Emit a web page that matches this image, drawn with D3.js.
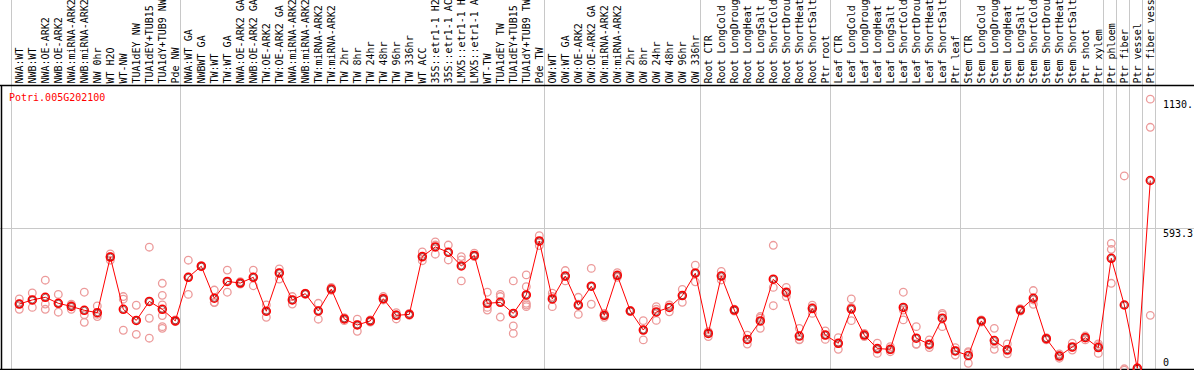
<!DOCTYPE html>
<html><head><meta charset="utf-8">
<script src="https://cdn.jsdelivr.net/npm/d3@7"></script>
<style>body{margin:0;background:#fff}svg{display:block}text{font-family:"DejaVu Sans Mono",monospace;font-size:10px}</style>
</head><body><div id="chart"></div>
<script>
const title = "Potri.005G202100";
const categories = [
"NWA:WT","NWB:WT","NWA:OE-ARK2","NWB:OE-ARK2","NWA:miRNA-ARK2","NWB:miRNA-ARK2","NW 0hr","WT H2O","WT-NW","TUA1dEY NW","TUA1dEY+TUB15 NW","TUA1dY+TUB9 NW","Pde NW",
"NWA:WT GA","NWBWT GA","TW:WT","TW:WT GA","NWA:OE-ARK2 GA","NWB:OE-ARK2 GA","TW:OE-ARK2","TW:OE-ARK2 GA","NWA:miRNA-ARK2 GA","NWB:miRNA-ARK2 GA","TW:miRNA-ARK2","TW:miRNA-ARK2 GA","TW 2hr","TW 8hr","TW 24hr","TW 48hr","TW 96hr","TW 336hr","WT ACC","35S::etr1-1 H2O","35S::etr1-1 ACC","LMX5::etr1-1 H2O","LMX5::etr1-1 ACC","WT-TW","TUA1dEY TW","TUA1dEY+TUB15 TW","TUA1dY+TUB9 TW","Pde TW",
"OW:WT","OW:WT GA","OW:OE-ARK2","OW:OE-ARK2 GA","OW:miRNA-ARK2","OW:miRNA-ARK2 GA","OW 2hr","OW 8hr","OW 24hr","OW 48hr","OW 96hr","OW 336hr",
"Root CTR","Root LongCold","Root LongDrought","Root LongHeat","Root LongSalt","Root ShortCold","Root ShortDrought","Root ShortHeat","Root ShortSalt","Ptr root",
"Leaf CTR","Leaf LongCold","Leaf LongDrought","Leaf LongHeat","Leaf LongSalt","Leaf ShortCold","Leaf ShortDrought","Leaf ShortHeat","Leaf ShortSalt","Ptr leaf",
"Stem CTR","Stem LongCold","Stem LongDrought","Stem LongHeat","Stem LongSalt","Stem ShortCold","Stem ShortDrought","Stem ShortHeat","Stem ShortSalt","Ptr shoot","Ptr xylem",
"Ptr phloem","Ptr fiber","Ptr vessel","Ptr fiber vessel"];
// index where each sample group starts (vertical separators)
const groupBreaks = [0,13,41,53,63,73,84,85,86,87,88];
const means = [
279,296,307,282,269,253,243,474,257,211,290,257,209,
390,436,303,373,366,390,249,408,296,322,250,341,217,192,209,301,232,236,476,516,494,437,481,282,286,240,317,541,
300,395,274,353,232,398,250,171,246,265,314,407,
157,395,254,132,209,382,328,146,260,150,
116,258,150,94,91,265,137,112,220,84,
65,209,127,89,254,303,135,63,101,139,98,
469,275,12,792];
const replicates = [
[300,257,279],[325,265,296],[378,279,257],[319,245,282],[278,257,274],[328,234,203],[271,236,227],[487,476,461],[310,299,170],[274,211,153],[515,220,137],[365,315,275,231,185,178],[213,206,209],
[461,319,390],[438,434,436],[337,285,286],[420,328,373],[372,362,366],[420,355,390],[275,224,249],[425,383,408],[310,279,296],[324,319,322],[282,216,250],[348,337,337],[222,210,217],[216,166,193],[213,204,209],[310,296,301],[243,217,235],[240,232,236],[495,473,459],[537,524,486],[524,494,462],[476,462,375],[490,476,481],[328,265,254],[319,310,225],[375,188,157],[400,351,317,282,275,268],[563,538,522],
[324,268,310],[418,375,394],[307,236,278],[427,278,353],[240,224,232],[409,390,396],[252,248,250],[210,130,171],[268,257,211],[275,247,274],[340,286,314],[440,409,371],
[164,144,157],[414,379,396],[258,250,254],[150,113,132],[227,178,220],[523,348,272],[348,310,324],[178,130,132],[274,240,265],[167,132,150],
[139,91,116],[300,210,265],[157,144,150],[116,74,91],[102,81,90],[328,213,254],[185,113,112],[130,98,108],[240,185,234],[98,67,85],
[81,33,77],[213,204,209],[178,91,113],[113,72,85],[260,250,254],[335,278,296],[139,130,135],[72,54,65],[116,88,98],[146,130,141],[113,74,106],
[531,506,365],[811,10,4],[15,10,11],[1130,1013,232]];
const yTickValues = [0, 593.3, 1130];
const yTickLabels = ["0", "593.3", "1130."];

const W = 1194, H = 370;
const svg = d3.select("#chart").append("svg").attr("width", W).attr("height", H);
const plotTop = 85.5;
const yMax = 1186.6;
const y = d3.scaleLinear().domain([0, yMax]).range([371.2, plotTop]);
const x = d3.scaleBand().domain(d3.range(categories.length)).range([11, 1155]).padding(0);
const px = i => x(i) + 8.3;

// vertical separators
svg.append("g").selectAll("line").data(groupBreaks).join("line")
  .attr("x1", d => Math.round(d < categories.length ? x(d) : x(categories.length-1) + x.bandwidth()) + 0.5)
  .attr("x2", d => Math.round(d < categories.length ? x(d) : x(categories.length-1) + x.bandwidth()) + 0.5)
  .attr("y1", 0).attr("y2", H).attr("stroke", "#c8c8c8").attr("stroke-width", 1);

// horizontal mid gridline
svg.append("line").attr("x1", 0).attr("x2", W)
  .attr("y1", Math.round(y(yTickValues[1])) + 0.5).attr("y2", Math.round(y(yTickValues[1])) + 0.5)
  .attr("stroke", "#c8c8c8");

// frame lines
svg.append("line").attr("x1", 0).attr("x2", W).attr("y1", plotTop).attr("y2", plotTop).attr("stroke", "#000").attr("stroke-width", 1.5);
svg.append("line").attr("x1", 0).attr("x2", W).attr("y1", 369.5).attr("y2", 369.5).attr("stroke", "#000").attr("stroke-width", 1.5);
svg.append("line").attr("x1", 1.5).attr("x2", 1.5).attr("y1", plotTop).attr("y2", H).attr("stroke", "#000").attr("stroke-width", 1.5);

// category labels
svg.append("g").selectAll("text").data(categories).join("text")
  .attr("transform", (d, i) => `translate(${px(i) + 3.6},83.5) rotate(-90)`)
  .attr("fill", "#000").text(d => d);

// title
svg.append("text").attr("x", 9).attr("y", 101).attr("fill", "#ff0000").text(title);

// y tick labels
svg.append("g").selectAll("text").data(yTickValues).join("text")
  .attr("x", 1163)
  .attr("y", (d, i) => i === 0 ? 366 : y(d) + 8.5)
  .attr("fill", "#000").text((d, i) => yTickLabels[i]);

// replicate points
const repData = [];
replicates.forEach((arr, i) => arr.forEach(v => repData.push({i, v})));
svg.append("g").selectAll("circle").data(repData).join("circle")
  .attr("cx", d => px(d.i)).attr("cy", d => y(d.v)).attr("r", 3.8)
  .attr("fill", "none").attr("stroke", "#ec9a9a").attr("stroke-width", 1.3);

// mean line
svg.append("path").datum(means)
  .attr("d", d3.line().x((d, i) => px(i)).y(d => y(d)))
  .attr("fill", "none").attr("stroke", "#ff0000").attr("stroke-width", 1);

// mean points
svg.append("g").selectAll("circle").data(means).join("circle")
  .attr("cx", (d, i) => px(i)).attr("cy", d => y(d)).attr("r", 4)
  .attr("fill", "none").attr("stroke", "#ff0000").attr("stroke-width", 1.5);
svg.append("g").selectAll("circle").data(means).join("circle")
  .attr("cx", (d, i) => px(i)).attr("cy", d => y(d)).attr("r", 3)
  .attr("fill", "none").attr("stroke", "#600000").attr("stroke-width", 0.6);
</script></body></html>
